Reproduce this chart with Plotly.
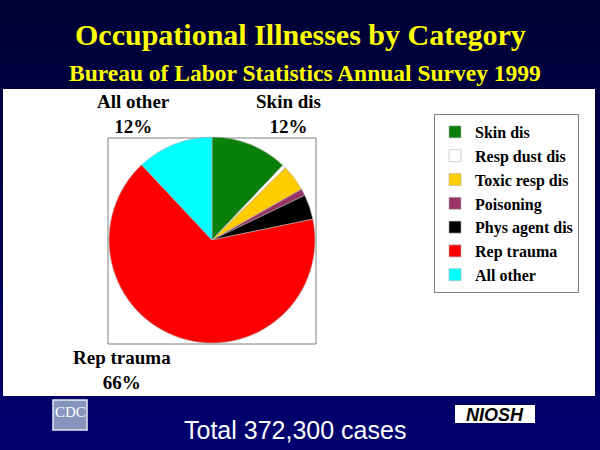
import plotly.graph_objects as go

categories = ["Skin dis", "Resp dust dis", "Toxic resp dis", "Poisoning",
              "Phys agent dis", "Rep trauma", "All other"]
cases_thousands = [45.0, 2.0, 15.5, 4.0, 14.5, 246.7, 44.6]
colors = ["#0a800a", "#ffffff", "#ffcc00", "#993366", "#000000", "#ff0000", "#00ffff"]
total_label = "Total 372,300 cases"
title_text = "Occupational Illnesses by Category"
subtitle_text = "Bureau of Labor Statistics Annual Survey 1999"

W, H = 600, 450
total = sum(cases_thousands)
pct = {c: round(v / total * 100) for c, v in zip(categories, cases_thousands)}

fig = go.Figure()
fig.add_trace(go.Pie(
    labels=categories, values=cases_thousands, sort=False, direction="clockwise",
    rotation=0, marker=dict(colors=colors, line=dict(width=0.6, color="#b0b0b0")),
    textinfo="none", hoverinfo="label+percent",
    domain=dict(x=[(212 - 103) / W, (212 + 103) / W], y=[(H - 240 - 103) / H, (H - 240 + 103) / H]),
))

shapes = []
# vertical gradient background
n = 40
for i in range(n):
    t = i / (n - 1)
    b = int(0x35 + (0x70 - 0x35) * t)
    shapes.append(dict(type="rect", xref="paper", yref="paper", x0=0, x1=1,
                       y0=1 - (i + 1) / n, y1=1 - i / n + 0.001, line=dict(width=0),
                       fillcolor=f"rgb(0,0,{b})", layer="below"))
# white panel
shapes.append(dict(type="rect", xref="paper", yref="paper", x0=3 / W, x1=595 / W,
                   y0=1 - 396 / H, y1=1 - 89 / H, line=dict(width=0), fillcolor="white", layer="below"))
# pie frame
shapes.append(dict(type="rect", xref="paper", yref="paper", x0=108 / W, x1=316 / W,
                   y0=1 - 344 / H, y1=1 - 138 / H, line=dict(width=1, color="#808080"), layer="below"))
# CDC logo
shapes.append(dict(type="rect", xref="paper", yref="paper", x0=53 / W, x1=87 / W,
                   y0=1 - 430 / H, y1=1 - 400 / H, line=dict(width=1.5, color="#e8ecf4"),
                   fillcolor="#8595bd"))
# NIOSH logo
shapes.append(dict(type="rect", xref="paper", yref="paper", x0=455 / W, x1=535 / W,
                   y0=1 - 423 / H, y1=1 - 405 / H, line=dict(width=0), fillcolor="white"))

serif = "Liberation Serif"
anns = [
    dict(text=f"<b>{title_text}</b>", x=300 / W, y=1 - 35 / H,
         font=dict(family=serif, size=30, color="#ffff00")),
    dict(text=f"<b>{subtitle_text}</b>", x=305 / W, y=1 - 73 / H,
         font=dict(family=serif, size=23.5, color="#ffff00")),
    dict(text=f"<b>All other<br>{pct['All other']}%</b>", x=133 / W, y=1 - 114 / H,
         font=dict(family=serif, size=19, color="black")),
    dict(text=f"<b>Skin dis<br>{pct['Skin dis']}%</b>", x=288 / W, y=1 - 114 / H,
         font=dict(family=serif, size=19, color="black")),
    dict(text=f"<b>Rep trauma<br>{pct['Rep trauma']}%</b>", x=122 / W, y=1 - 370 / H,
         font=dict(family=serif, size=19, color="black")),
    dict(text=total_label, x=295 / W, y=1 - 430 / H,
         font=dict(family="Liberation Sans", size=25, color="white")),
    dict(text="CDC", x=70 / W, y=1 - 412 / H,
         font=dict(family=serif, size=15, color="white")),
    dict(text="<b><i>NIOSH</i></b>", x=495 / W, y=1 - 415 / H,
         font=dict(family="Liberation Sans", size=18, color="black")),
]
for a in anns:
    a.update(xref="paper", yref="paper", showarrow=False, xanchor="center", yanchor="middle")

fig.update_layout(
    width=W, height=H, margin=dict(l=0, r=0, t=0, b=0),
    paper_bgcolor="#000050", plot_bgcolor="white",
    shapes=shapes, annotations=anns,
    showlegend=True,
    legend=dict(x=434 / W, y=1 - 114 / H, xanchor="left", yanchor="top",
                bgcolor="white", bordercolor="#808080", borderwidth=1,
                font=dict(family=serif, size=16, color="black", weight="bold"),
                itemwidth=30, tracegroupgap=0),
)
fig.write_html("out.html")
